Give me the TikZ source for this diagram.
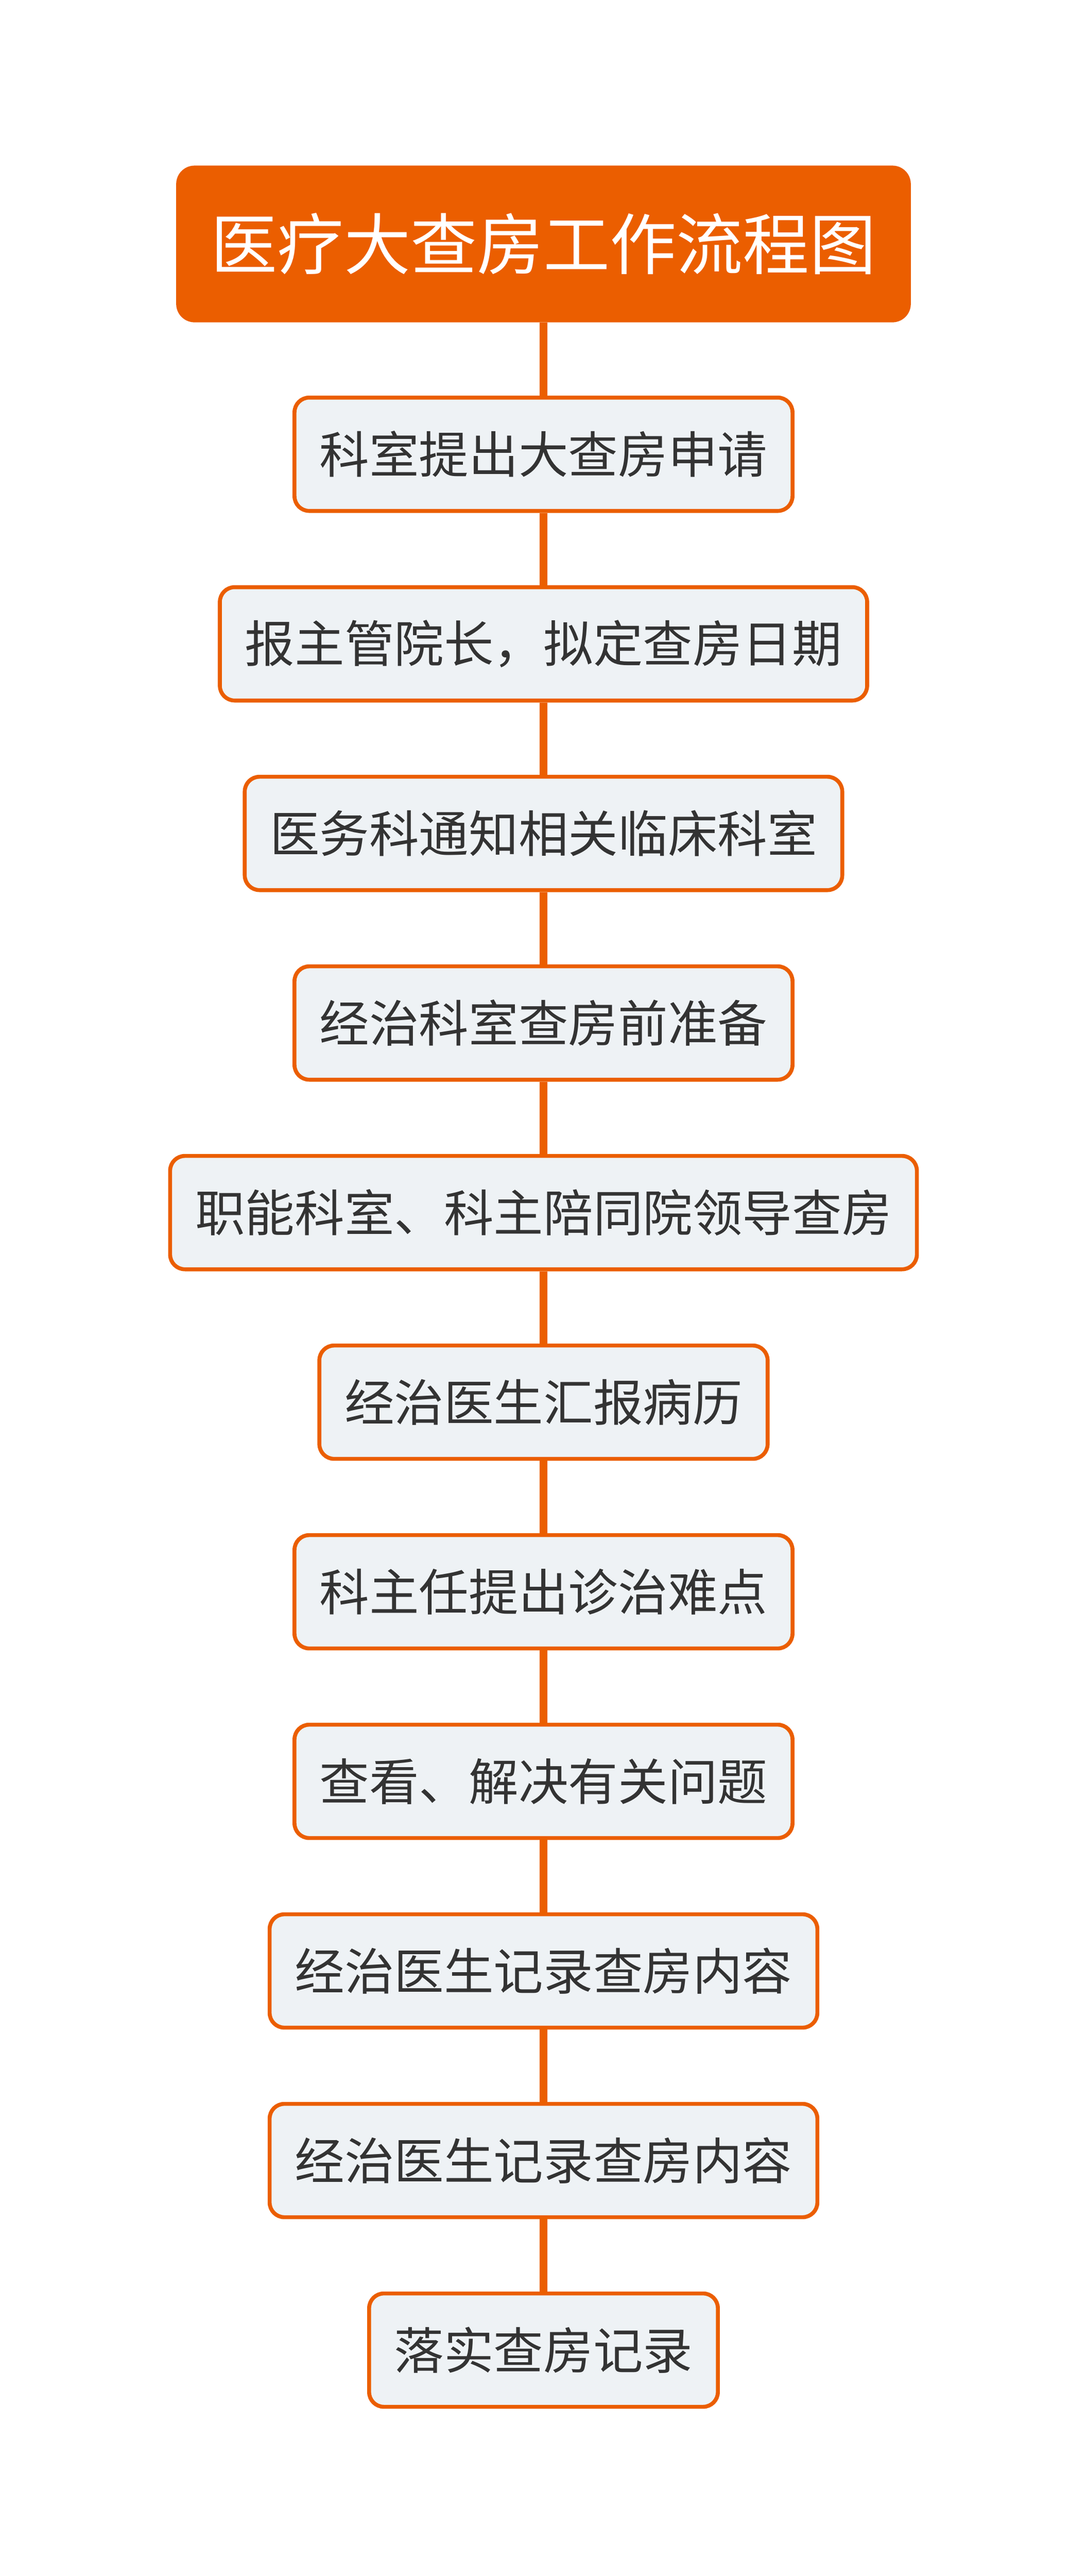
\documentclass[tikz,border=0pt]{standalone}
\usepackage{fontspec}
\newfontfamily\cjk{Noto Sans CJK SC}
\definecolor{shutuorange}{HTML}{EB5E00}
\definecolor{boxfill}{HTML}{EEF2F5}
\definecolor{boxtext}{HTML}{333333}
\begin{document}
\begin{tikzpicture}[
  rootbox/.style={draw=shutuorange,fill=shutuorange,line width=2.4pt,rounded corners=10pt,
    text=white,font=\cjk\fontsize{40.5}{40.5}\selectfont,minimum height=93pt,inner xsep=20pt},
  stepbox/.style={draw=shutuorange,fill=boxfill,line width=2.4pt,rounded corners=9pt,
    text=boxtext,font=\cjk\fontsize{30.3}{30.3}\selectfont,minimum height=69pt,inner xsep=15.3pt},
  link/.style={shutuorange,line width=4.7pt}]
\useasboundingbox (0,0) rectangle (662pt,-1568pt);
\node[rootbox] (root) at (331pt,-148.5pt) {医疗大查房工作流程图};
\foreach \txt [count=\i] in {科室提出大查房申请,报主管院长，拟定查房日期,医务科通知相关临床科室,
    经治科室查房前准备,职能科室、科主陪同院领导查房,经治医生汇报病历,科主任提出诊治难点,
    查看、解决有关问题,经治医生记录查房内容,经治医生记录查房内容,落实查房记录}{
  \node[stepbox] (s\i) at (331pt,{-276.5pt-115.4pt*(\i-1)}) {\txt};
}
% links between the steps
\draw[link] (root.south) -- (s1.north);
\foreach \i [evaluate=\i as \j using int(\i+1)] in {1,...,10}{
  \draw[link] (s\i.south) -- (s\j.north);
}
\end{tikzpicture}
\end{document}
